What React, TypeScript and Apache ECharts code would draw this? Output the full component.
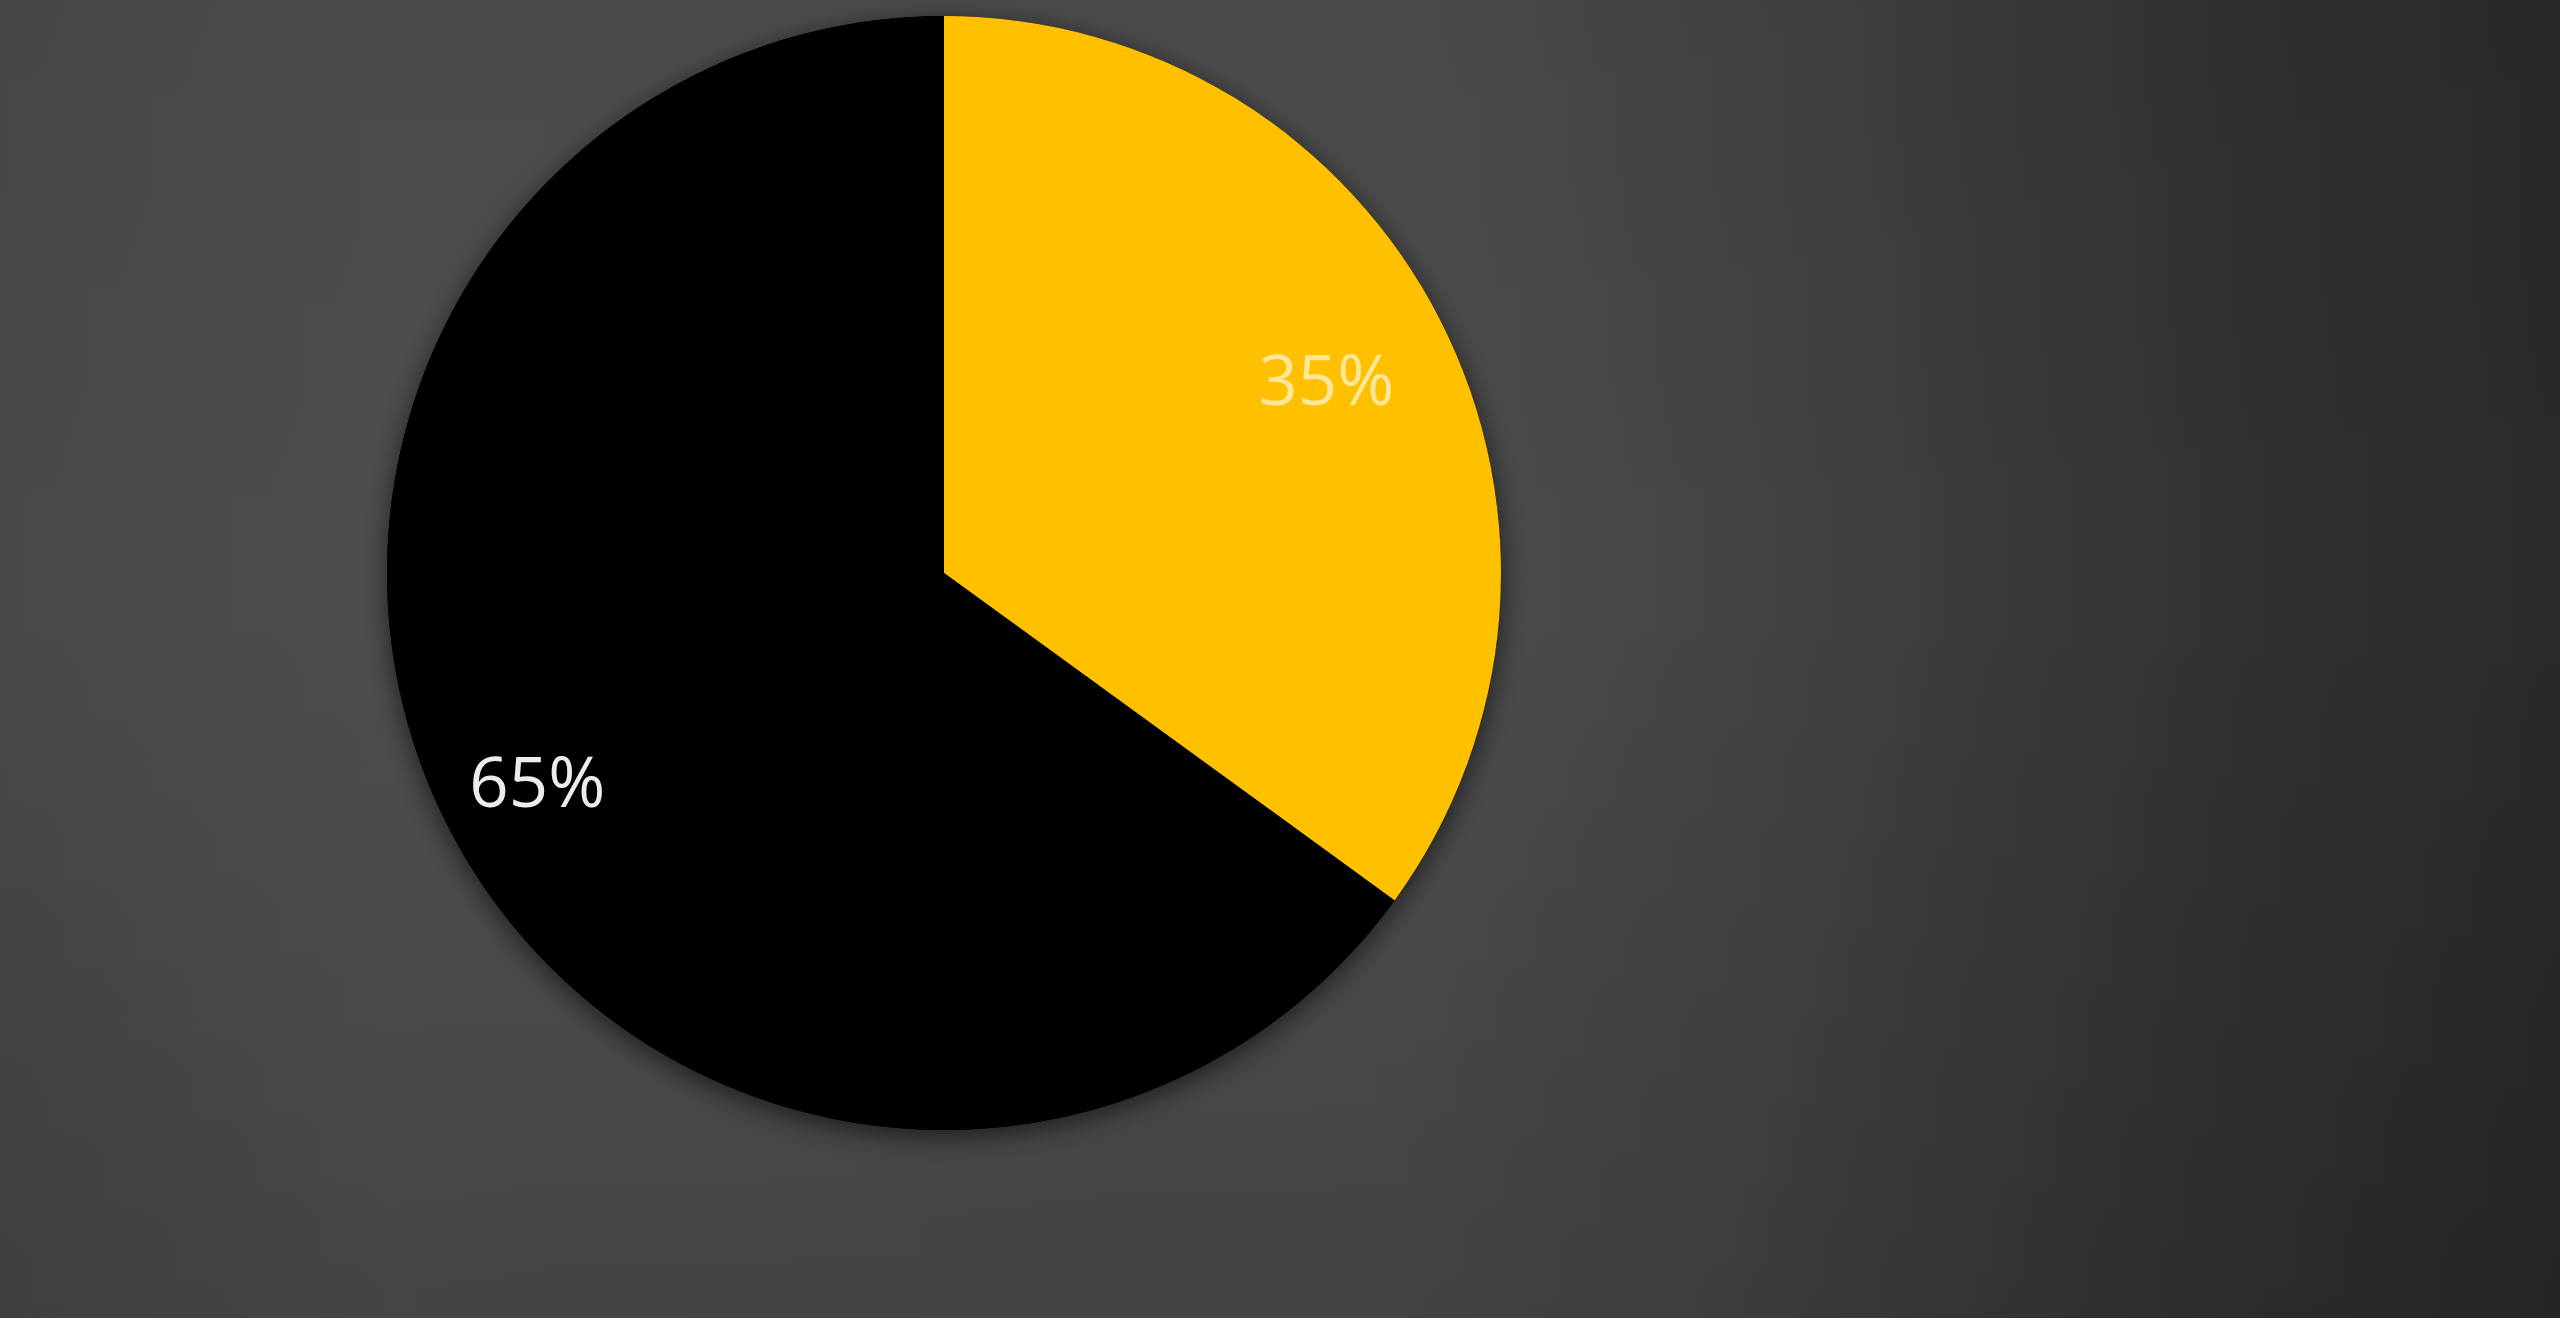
import { useEffect, useRef } from 'react';
import * as echarts from 'echarts';

const categories = ['A', 'B'];
const values = [35, 65];
const sliceColors = ['#FFC000', '#000000'];
const labelColors = ['rgba(255,255,255,0.6)', '#ECECEC'];
// inner radius of the invisible ring that carries each label (label sits mid-ring)
const labelRingInner = [295, 350];

const App = () => {
  const chartRef = useRef<HTMLDivElement>(null);

  useEffect(() => {
    document.body.style.margin = '0';
    if (!chartRef.current) return;
    const chart = echarts.init(chartRef.current, null, { renderer: 'svg' });
    const w = chart.getWidth();
    const h = chart.getHeight();
    const total = values.reduce((a, b) => a + b, 0);

    const center = [944, 573];
    const radius = 557;

    const labelSeries = categories.map((_, k) => ({
      type: 'pie',
      center,
      radius: [labelRingInner[k], radius],
      startAngle: 90,
      clockwise: true,
      silent: true,
      labelLine: { show: false },
      data: categories.map((name, i) => ({
        name,
        value: values[i],
        itemStyle: { color: 'transparent' },
        label: {
          show: i === k,
          position: 'inside',
          formatter: '{c}%',
          fontFamily: 'Open Sans',
          fontSize: 69,
          color: labelColors[i],
        },
      })),
    }));

    chart.setOption({
      animation: false,
      backgroundColor: {
        type: 'linear',
        x: 0,
        y: 0,
        x2: 1,
        y2: 0,
        colorStops: [
          { offset: 0, color: '#484848' },
          { offset: 0.15, color: '#4e4e4e' },
          { offset: 0.55, color: '#4c4c4c' },
          { offset: 0.68, color: '#444444' },
          { offset: 0.78, color: '#3a3a3a' },
          { offset: 0.88, color: '#313131' },
          { offset: 1, color: '#2a2a2a' },
        ],
      },
      graphic: [
        {
          type: 'rect',
          silent: true,
          z: -1,
          shape: { x: 0, y: 0, width: w, height: h },
          style: {
            fill: {
              type: 'linear',
              x: 0,
              y: 0,
              x2: 0,
              y2: 1,
              colorStops: [
                { offset: 0, color: 'rgba(0,0,0,0.04)' },
                { offset: 0.45, color: 'rgba(0,0,0,0)' },
                { offset: 1, color: 'rgba(0,0,0,0.12)' },
              ],
            },
          },
        },
      ],
      series: [
        {
          // shadow disk under the pie
          type: 'pie',
          center,
          radius,
          silent: true,
          label: { show: false },
          labelLine: { show: false },
          itemStyle: {
            color: '#000000',
            shadowBlur: 26,
            shadowColor: 'rgba(0,0,0,0.6)',
            shadowOffsetY: 6,
          },
          data: [{ name: 'all', value: total }],
        },
        {
          type: 'pie',
          center,
          radius,
          startAngle: 90,
          clockwise: true,
          silent: true,
          label: { show: false },
          labelLine: { show: false },
          data: categories.map((name, i) => ({
            name,
            value: values[i],
            itemStyle: { color: sliceColors[i] },
          })),
        },
        ...labelSeries,
      ],
    });

    return () => {
      chart.dispose();
    };
  }, []);

  return <div ref={chartRef} style={{ width: '2560px', height: '1318px' }} />;
};

export default App;
